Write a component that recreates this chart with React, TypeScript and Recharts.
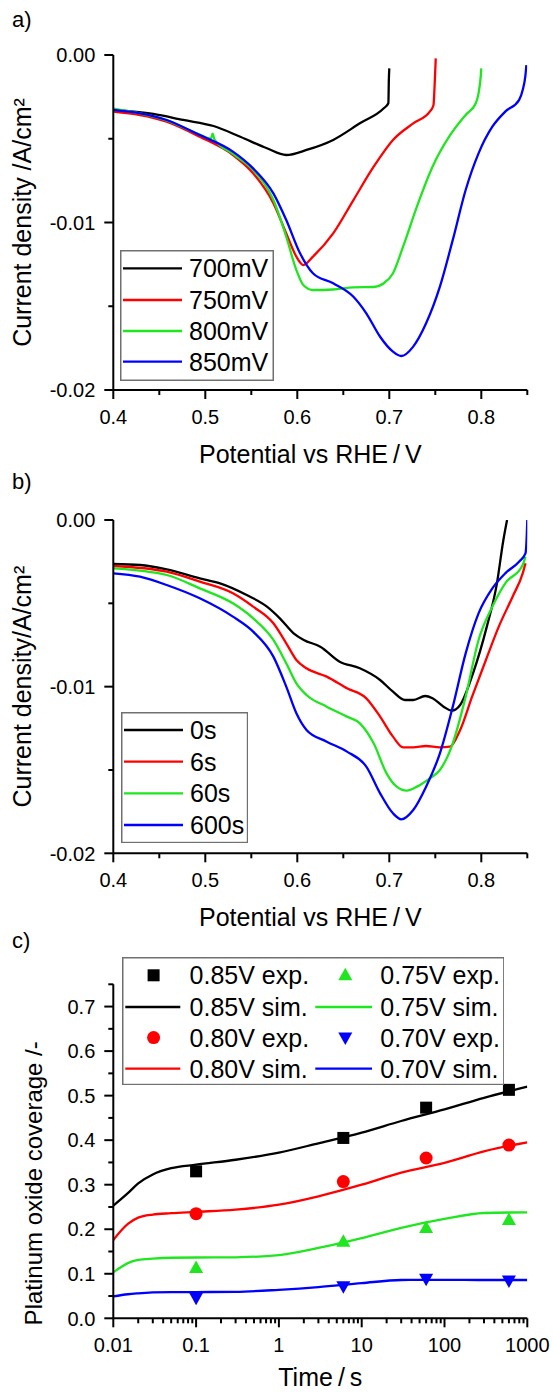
import React from 'react';
import { LineChart, ComposedChart, Line, Scatter, XAxis, YAxis, Legend, Customized } from 'recharts';

const FONT = '"Liberation Sans", Arial, Helvetica, sans-serif';
const BLACK = '#000000';
const RED = '#ff0000';
const GREEN = '#1fe61f';
const BLUE = '#0000ff';
const COLORS = [BLACK, RED, GREEN, BLUE];
const LW = 2.3;

// ---------- Panel a: potential hold, different potentials ----------
const legendA = ['700mV', '750mV', '800mV', '850mV'];
const sweep700: [number, number][] = [
  [0.400, -0.00328], [0.4435, -0.00352], [0.476, -0.00388], [0.509, -0.00424], [0.538, -0.00488],
  [0.567, -0.00557], [0.588, -0.00597], [0.610, -0.00567], [0.639, -0.00507], [0.668, -0.00408],
  [0.694, -0.00318], [0.699, -0.00288], [0.6995, -0.0015], [0.700, -0.0008],
];
const sweep750: [number, number][] = [
  [0.400, -0.00338], [0.458, -0.00398], [0.494, -0.00488], [0.530, -0.00597], [0.552, -0.00706],
  [0.574, -0.00885], [0.588, -0.01065], [0.599, -0.01204], [0.6065, -0.01254], [0.617, -0.01204],
  [0.639, -0.01065], [0.661, -0.00866], [0.683, -0.00667], [0.704, -0.00507], [0.726, -0.00408],
  [0.744, -0.00338], [0.748, -0.00300], [0.7495, -0.0015], [0.7505, -0.0002],
];
const sweep800: [number, number][] = [
  [0.400, -0.00320], [0.458, -0.00390], [0.494, -0.00475], [0.506, -0.00500], [0.508, -0.00470],
  [0.510, -0.00505], [0.530, -0.00590], [0.552, -0.00687], [0.574, -0.00866], [0.588, -0.01085],
  [0.599, -0.01284], [0.6065, -0.01373], [0.617, -0.01403], [0.639, -0.01400], [0.661, -0.01387],
  [0.683, -0.01385], [0.694, -0.01363], [0.704, -0.01303], [0.715, -0.01144], [0.730, -0.00905],
  [0.747, -0.00667], [0.765, -0.00488], [0.783, -0.00358], [0.794, -0.00288], [0.797, -0.00229],
  [0.7995, -0.0012], [0.800, -0.0008],
];
const sweep850: [number, number][] = [
  [0.400, -0.00328], [0.458, -0.00388], [0.494, -0.00478], [0.530, -0.00577], [0.552, -0.00677],
  [0.574, -0.00826], [0.588, -0.00985], [0.603, -0.01184], [0.617, -0.01303], [0.639, -0.01363],
  [0.661, -0.01443], [0.675, -0.01542], [0.690, -0.01682], [0.704, -0.01771], [0.713, -0.01797],
  [0.726, -0.01741], [0.740, -0.01602], [0.755, -0.01383], [0.769, -0.01104], [0.783, -0.00806],
  [0.797, -0.00587], [0.812, -0.00428], [0.826, -0.00338], [0.841, -0.00269], [0.845, -0.00209],
  [0.848, -0.00120], [0.849, -0.0006],
];

// ---------- Panel b: hold times at fixed potential ----------
const legendB = ['0s', '6s', '60s', '600s'];
const hold0: [number, number][] = [
  [0.400, -0.00264], [0.429, -0.0027], [0.458, -0.00296], [0.494, -0.0035], [0.516, -0.0038],
  [0.545, -0.0045], [0.567, -0.0052], [0.581, -0.0059], [0.596, -0.0068], [0.607, -0.0072],
  [0.625, -0.0076], [0.646, -0.0085], [0.668, -0.0089], [0.690, -0.0096], [0.704, -0.0103],
  [0.717, -0.0108], [0.726, -0.0108], [0.739, -0.01056], [0.747, -0.0107], [0.759, -0.0112],
  [0.768, -0.01144], [0.777, -0.0111], [0.791, -0.0092], [0.806, -0.0064], [0.817, -0.0038],
  [0.824, -0.0012], [0.828, 0.0],
];
const hold6: [number, number][] = [
  [0.400, -0.00276], [0.458, -0.0031], [0.494, -0.0037], [0.530, -0.0044], [0.552, -0.0052],
  [0.574, -0.0062], [0.588, -0.0074], [0.599, -0.0084], [0.610, -0.0089], [0.632, -0.0094],
  [0.654, -0.0101], [0.675, -0.0107], [0.690, -0.0118], [0.704, -0.0130], [0.715, -0.01364],
  [0.726, -0.01364], [0.740, -0.01356], [0.755, -0.01364], [0.766, -0.0136], [0.777, -0.0126],
  [0.790, -0.0106], [0.805, -0.0084], [0.819, -0.0064], [0.834, -0.0046], [0.845, -0.0032],
  [0.848, -0.0026],
];
const hold60: [number, number][] = [
  [0.400, -0.0029], [0.458, -0.0033], [0.494, -0.0041], [0.530, -0.0050], [0.552, -0.0059],
  [0.574, -0.0072], [0.588, -0.0086], [0.599, -0.0098], [0.610, -0.0105], [0.632, -0.0112],
  [0.654, -0.0118], [0.668, -0.0122], [0.683, -0.0134], [0.697, -0.0152], [0.708, -0.0160],
  [0.719, -0.01624], [0.730, -0.0160], [0.744, -0.0155], [0.755, -0.0150], [0.769, -0.0134],
  [0.783, -0.0106], [0.797, -0.0072], [0.812, -0.0052], [0.826, -0.0038], [0.845, -0.0027],
  [0.848, -0.0022],
];
const hold600: [number, number][] = [
  [0.400, -0.0032], [0.429, -0.0034], [0.458, -0.0039], [0.494, -0.0047], [0.530, -0.0058],
  [0.552, -0.0067], [0.574, -0.0082], [0.588, -0.0100], [0.599, -0.0116], [0.610, -0.0126],
  [0.632, -0.0133], [0.654, -0.0139], [0.675, -0.0148], [0.690, -0.0164], [0.704, -0.0176],
  [0.713, -0.01796], [0.726, -0.0174], [0.740, -0.0160], [0.755, -0.0140], [0.769, -0.0112],
  [0.783, -0.0080], [0.797, -0.0056], [0.812, -0.0041], [0.826, -0.0032], [0.841, -0.0025],
  [0.848, -0.0020], [0.8495, -0.0008], [0.850, 0.0],
];

// ---------- Panel c: oxide coverage vs time ----------
const expTimes = [0.1, 6, 60, 600];
const exp085 = [0.330, 0.405, 0.473, 0.513];
const exp080 = [0.235, 0.307, 0.360, 0.389];
const exp075 = [0.113, 0.172, 0.203, 0.221];
const exp070 = [0.046, 0.072, 0.089, 0.085];
const simTimes = [0.01, 0.015, 0.02, 0.03, 0.05, 0.1, 0.3, 1, 3, 10, 30, 100, 300, 1000];
const sim085 = [0.253, 0.281, 0.303, 0.323, 0.337, 0.345, 0.356, 0.372, 0.393, 0.417, 0.443, 0.469, 0.495, 0.520];
const sim080 = [0.176, 0.212, 0.226, 0.233, 0.236, 0.239, 0.244, 0.255, 0.274, 0.300, 0.327, 0.349, 0.375, 0.395];
const sim075 = [0.103, 0.124, 0.131, 0.134, 0.136, 0.1365, 0.137, 0.142, 0.158, 0.180, 0.203, 0.223, 0.2365, 0.238];
const sim070 = [0.049, 0.054, 0.056, 0.058, 0.059, 0.059, 0.0595, 0.064, 0.070, 0.079, 0.086, 0.0865, 0.086, 0.086];
const legendC = ['0.85V exp.', '0.85V sim.', '0.80V exp.', '0.80V sim.', '0.75V exp.', '0.75V sim.', '0.70V exp.', '0.70V sim.'];

// ---------- axis ticks ----------
const potMajor = [0.4, 0.5, 0.6, 0.7, 0.8];
const potAll = [0.4, 0.45, 0.5, 0.55, 0.6, 0.65, 0.7, 0.75, 0.8, 0.85];
const curMajor = [0, -0.01, -0.02];
const curAll = [0, -0.005, -0.01, -0.015, -0.02];
const covMajor = [0, 0.1, 0.2, 0.3, 0.4, 0.5, 0.6, 0.7];
const covAll = [0, 0.05, 0.1, 0.15, 0.2, 0.25, 0.3, 0.35, 0.4, 0.45, 0.5, 0.55, 0.6, 0.65, 0.7, 0.75];
const timeMajor = [0.01, 0.1, 1, 10, 100, 1000];
const timeLabels = ['0.01', '0.1', '1', '10', '100', '1000'];
const timeAll: number[] = (() => {
  const out: number[] = [];
  for (let d = -2; d < 3; d++) for (let m = 1; m < 10; m++) out.push(m * Math.pow(10, d));
  out.push(1000);
  return out;
})();

const toVI = (arr: [number, number][]) => arr.map(([v, i]) => ({ v, i }));
const toTY = (ts: number[], ys: number[]) => ts.map((t, k) => ({ t, y: ys[k] }));

const isIn = (list: number[], v: number) => list.some((m) => Math.abs(m - v) < 1e-9 * Math.max(1, Math.abs(m)));

const makeXTick = (majors: number[], fmt: (v: number) => string) => (p: any) => {
  const { x, y, payload } = p;
  const v = payload.value;
  const major = isIn(majors, v);
  return (
    <g>
      <line x1={x} x2={x} y1={y} y2={y + (major ? 9 : 5)} stroke="#000" strokeWidth={2} />
      {major && (
        <text x={x} y={y + 34} textAnchor="middle" fontSize={20} fontFamily={FONT} fill="#000">
          {fmt(v)}
        </text>
      )}
    </g>
  );
};

const makeYTick = (majors: number[], fmt: (v: number) => string) => (p: any) => {
  const { x, y, payload } = p;
  const v = payload.value;
  const major = isIn(majors, v);
  return (
    <g>
      <line x1={x - (major ? 9 : 5)} x2={x} y1={y} y2={y} stroke="#000" strokeWidth={2} />
      {major && (
        <text x={x - 18} y={y} dy="0.36em" textAnchor="end" fontSize={20} fontFamily={FONT} fill="#000">
          {fmt(v)}
        </text>
      )}
    </g>
  );
};

const fmtPot = (v: number) => v.toFixed(1);
const fmtCur = (v: number) => (Math.abs(v) < 1e-12 ? '0.00' : v.toFixed(2));
const fmtCov = (v: number) => v.toFixed(1);
const fmtTime = (v: number) => timeLabels[timeMajor.findIndex((m) => Math.abs(m - v) < 1e-9 * Math.max(1, m))] ?? '';

const xTitle = (text: string, dx: number, dy: number) => (p: any) => {
  const vb = p.viewBox || {};
  return (
    <text x={vb.x + vb.width / 2 + dx} y={vb.y + dy} textAnchor="middle" fontSize={25} fontFamily={FONT} fill="#000">
      {text}
    </text>
  );
};

const yTitle = (text: string, bx: number, dy: number, size: number) => (p: any) => {
  const vb = p.viewBox || {};
  const cy = vb.y + vb.height / 2 + dy;
  return (
    <text
      x={bx}
      y={cy}
      transform={`rotate(-90 ${bx} ${cy})`}
      textAnchor="middle"
      fontSize={size}
      fontFamily={FONT}
      fill="#000"
    >
      {text}
    </text>
  );
};

const PanelLetter = (letter: string, y: number) => () => (
  <text x={12} y={y} fontSize={22} fontFamily={FONT} fill="#000">
    {letter}
  </text>
);

const LineLegend = ({ labels, width, height, rows }: { labels: string[]; width: number; height: number; rows: number[] }) => (
  <svg width={width} height={height} style={{ display: 'block' }}>
    <rect x={0.75} y={0.75} width={width - 1.5} height={height - 1.5} fill="#fff" stroke="#707070" strokeWidth={1.5} />
    {labels.map((lab, k) => (
      <g key={lab}>
        <line x1={3} x2={62} y1={rows[k]} y2={rows[k]} stroke={COLORS[k]} strokeWidth={LW} />
        <text x={69} y={rows[k] + 9} fontSize={25} fontFamily={FONT} fill="#000">
          {lab}
        </text>
      </g>
    ))}
  </svg>
);

const Square = (p: any) => <rect x={p.cx - 6} y={p.cy - 6} width={12} height={12} fill={BLACK} />;
const Dot = (p: any) => <circle cx={p.cx} cy={p.cy} r={6.5} fill={RED} />;
const UpTri = (p: any) => (
  <polygon points={`${p.cx},${p.cy - 7.5} ${p.cx - 7},${p.cy + 5} ${p.cx + 7},${p.cy + 5}`} fill={GREEN} />
);
const DownTri = (p: any) => (
  <polygon points={`${p.cx - 7},${p.cy - 5} ${p.cx + 7},${p.cy - 5} ${p.cx},${p.cy + 7.5}`} fill={BLUE} />
);

const LegendC = () => {
  const w = 382.6;
  const h = 128.3;
  const rows = [18.3, 50, 80.6, 111.6];
  const cols = [
    { cx: 31.6, l1: 3.3, l2: 58.3, tx: 67.6 },
    { cx: 223.3, l1: 193.3, l2: 250, tx: 258.3 },
  ];
  const colorsC = [BLACK, RED, GREEN, BLUE];
  const markers = [
    (cx: number, cy: number) => <rect x={cx - 6} y={cy - 6} width={12} height={12} fill={BLACK} />,
    (cx: number, cy: number) => <circle cx={cx} cy={cy} r={6.5} fill={RED} />,
    (cx: number, cy: number) => <polygon points={`${cx},${cy - 7.5} ${cx - 7},${cy + 5} ${cx + 7},${cy + 5}`} fill={GREEN} />,
    (cx: number, cy: number) => <polygon points={`${cx - 7},${cy - 5} ${cx + 7},${cy - 5} ${cx},${cy + 7.5}`} fill={BLUE} />,
  ];
  return (
    <svg width={w} height={h} style={{ display: 'block' }}>
      <rect x={0.75} y={0.75} width={w - 1.5} height={h - 1.5} fill="#fff" stroke="#707070" strokeWidth={1.5} />
      {[0, 1, 2, 3].map((s) => {
        const col = cols[s < 2 ? 0 : 1];
        const r0 = rows[(s % 2) * 2];
        const r1 = rows[(s % 2) * 2 + 1];
        return (
          <g key={s}>
            {markers[s](col.cx, r0)}
            <text x={col.tx} y={r0 + 9} fontSize={25} fontFamily={FONT} fill="#000">
              {legendC[s * 2]}
            </text>
            <line x1={col.l1} x2={col.l2} y1={r1} y2={r1} stroke={colorsC[s]} strokeWidth={LW} />
            <text x={col.tx} y={r1 + 9} fontSize={25} fontFamily={FONT} fill="#000">
              {legendC[s * 2 + 1]}
            </text>
          </g>
        );
      })}
    </svg>
  );
};

const seriesA = [sweep700, sweep750, sweep800, sweep850];
const seriesB = [hold0, hold6, hold60, hold600];

const axisLineStyle = { stroke: '#000', strokeWidth: 2 };

export default function App() {
  return (
    <div style={{ position: 'absolute', left: 0, top: 0, width: 553, height: 1392, background: '#fff', fontFamily: FONT }}>
      {/* Panel a */}
      <div style={{ position: 'absolute', left: 0, top: 0 }}>
        <LineChart width={553} height={470} margin={{ top: 55, right: 25.7, bottom: 0, left: 0 }}>
          <XAxis
            type="number"
            dataKey="v"
            domain={[0.4, 0.85]}
            allowDataOverflow
            ticks={potAll}
            interval={0}
            tickSize={0}
            tickMargin={0}
            tickLine={false}
            axisLine={axisLineStyle}
            height={80}
            tick={makeXTick(potMajor, fmtPot)}
            label={xTitle('Potential vs RHE\u2009/\u2009V', -10, 73)}
          />
          <YAxis
            type="number"
            domain={[-0.02, 0]}
            allowDataOverflow
            ticks={curAll}
            interval={0}
            tickSize={0}
            tickMargin={0}
            tickLine={false}
            axisLine={axisLineStyle}
            width={113.3}
            tick={makeYTick(curMajor, fmtCur)}
            label={yTitle('Current density /A/cm\u00b2', 31, 0, 25)}
          />
          {seriesA.map((s, k) => (
            <Line
              key={legendA[k]}
              data={toVI(s)}
              dataKey="i"
              name={legendA[k]}
              type="monotone"
              stroke={COLORS[k]}
              strokeWidth={LW}
              dot={false}
              isAnimationActive={false}
            />
          ))}
          <Legend
            layout="vertical"
            align="center"
            verticalAlign="middle"
            wrapperStyle={{ left: 120, top: 250, width: 154, height: 131, margin: 0, padding: 0 }}
            content={() => <LineLegend labels={legendA} width={154} height={131} rows={[18.3, 50, 81, 111.7]} />}
          />
          <Customized component={PanelLetter('a)', 27)} />
        </LineChart>
      </div>

      {/* Panel b */}
      <div style={{ position: 'absolute', left: 0, top: 470 }}>
        <LineChart width={553} height={470} margin={{ top: 50, right: 25.7, bottom: 0, left: 0 }}>
          <XAxis
            type="number"
            dataKey="v"
            domain={[0.4, 0.85]}
            allowDataOverflow
            ticks={potAll}
            interval={0}
            tickSize={0}
            tickMargin={0}
            tickLine={false}
            axisLine={axisLineStyle}
            height={86.7}
            tick={makeXTick(potMajor, fmtPot)}
            label={xTitle('Potential vs RHE\u2009/\u2009V', -10, 73)}
          />
          <YAxis
            type="number"
            domain={[-0.02, 0]}
            allowDataOverflow
            ticks={curAll}
            interval={0}
            tickSize={0}
            tickMargin={0}
            tickLine={false}
            axisLine={axisLineStyle}
            width={113.3}
            tick={makeYTick(curMajor, fmtCur)}
            label={yTitle('Current density/A/cm\u00b2', 31, 0, 25)}
          />
          {seriesB.map((s, k) => (
            <Line
              key={legendB[k]}
              data={toVI(s)}
              dataKey="i"
              name={legendB[k]}
              type="monotone"
              stroke={COLORS[k]}
              strokeWidth={LW}
              dot={false}
              isAnimationActive={false}
            />
          ))}
          <Legend
            layout="vertical"
            align="center"
            verticalAlign="middle"
            wrapperStyle={{ left: 120.7, top: 242, width: 127.3, height: 131.3, margin: 0, padding: 0 }}
            content={() => <LineLegend labels={legendB} width={127.3} height={131.3} rows={[18, 49.7, 81.3, 113]} />}
          />
          <Customized component={PanelLetter('b)', 19)} />
        </LineChart>
      </div>

      {/* Panel c */}
      <div style={{ position: 'absolute', left: 0, top: 925 }}>
        <ComposedChart width={553} height={467} margin={{ top: 59.3, right: 25.7, bottom: 0, left: 0 }}>
          <XAxis
            type="number"
            dataKey="t"
            scale="log"
            domain={[0.01, 1000]}
            allowDataOverflow
            ticks={timeAll}
            interval={0}
            tickSize={0}
            tickMargin={0}
            tickLine={false}
            axisLine={axisLineStyle}
            height={73.7}
            tick={makeXTick(timeMajor, fmtTime)}
            label={xTitle('Time\u2009/\u2009s', 0, 68)}
          />
          <YAxis
            type="number"
            dataKey="y"
            domain={[0, 0.75]}
            allowDataOverflow
            ticks={covAll}
            interval={0}
            tickSize={0}
            tickMargin={0}
            tickLine={false}
            axisLine={axisLineStyle}
            width={113.3}
            tick={makeYTick(covMajor, fmtCov)}
            label={yTitle('Platinum oxide coverage /-', 42, 32, 24)}
          />
          <Line data={toTY(simTimes, sim085)} dataKey="y" name="0.85V sim." type="monotone" stroke={BLACK} strokeWidth={LW} dot={false} isAnimationActive={false} />
          <Line data={toTY(simTimes, sim080)} dataKey="y" name="0.80V sim." type="monotone" stroke={RED} strokeWidth={LW} dot={false} isAnimationActive={false} />
          <Line data={toTY(simTimes, sim075)} dataKey="y" name="0.75V sim." type="monotone" stroke={GREEN} strokeWidth={LW} dot={false} isAnimationActive={false} />
          <Line data={toTY(simTimes, sim070)} dataKey="y" name="0.70V sim." type="monotone" stroke={BLUE} strokeWidth={LW} dot={false} isAnimationActive={false} />
          <Scatter data={toTY(expTimes, exp085)} dataKey="y" name="0.85V exp." shape={Square} isAnimationActive={false} />
          <Scatter data={toTY(expTimes, exp080)} dataKey="y" name="0.80V exp." shape={Dot} isAnimationActive={false} />
          <Scatter data={toTY(expTimes, exp075)} dataKey="y" name="0.75V exp." shape={UpTri} isAnimationActive={false} />
          <Scatter data={toTY(expTimes, exp070)} dataKey="y" name="0.70V exp." shape={DownTri} isAnimationActive={false} />
          <Legend
            layout="vertical"
            align="center"
            verticalAlign="middle"
            wrapperStyle={{ left: 121.7, top: 31.7, width: 382.6, height: 128.3, margin: 0, padding: 0 }}
            content={() => <LegendC />}
          />
          <Customized component={PanelLetter('c)', 23)} />
        </ComposedChart>
      </div>
    </div>
  );
}
